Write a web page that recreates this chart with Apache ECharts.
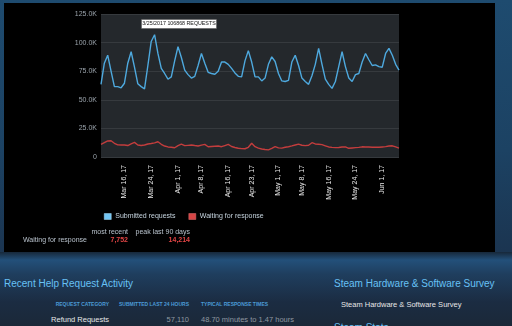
<!DOCTYPE html>
<html>
<head>
<meta charset="utf-8">
<script src="https://cdn.jsdelivr.net/npm/echarts@6/dist/echarts.min.js"></script>
<style>
html,body{margin:0;padding:0;width:512px;height:326px;overflow:hidden;}
body{position:relative;background:linear-gradient(to bottom,#1e4b6f 0px,#1c4263 150px,#1b3551 250px,#1b2838 326px);font-family:"Liberation Sans",Arial,sans-serif;}
#panel{position:absolute;left:4px;top:3px;width:491px;height:249px;background:#000;}
#lower{position:absolute;left:0;top:252px;width:512px;height:74px;background:linear-gradient(to bottom,#17283a 0px,#23507a 8px,#1f3e5e 22px,#1b2c42 50px,#1b2838 74px);}
#chart{position:absolute;left:0;top:0;width:512px;height:326px;}
.t{position:absolute;white-space:nowrap;line-height:12px;height:12px;}
.r{text-align:right;}
</style>
</head>
<body>
<div id="panel"></div>
<div id="lower"></div>
<div class="t" style="left:4px;top:278px;font-size:10px;color:#67c1f5;">Recent Help Request Activity</div>
<div class="t r" style="right:403px;top:298px;font-size:5px;font-weight:bold;color:#4b9bd6;">REQUEST CATEGORY</div>
<div class="t r" style="right:323px;top:298px;font-size:5px;font-weight:bold;color:#4b9bd6;">SUBMITTED LAST 24 HOURS</div>
<div class="t" style="left:201px;top:298px;font-size:5px;font-weight:bold;color:#4b9bd6;">TYPICAL RESPONSE TIMES</div>
<div class="t r" style="right:403px;top:314px;font-size:7.5px;color:#e6e6e6;">Refund Requests</div>
<div class="t r" style="right:323px;top:314px;font-size:7.5px;color:#8f98a0;">57,110</div>
<div class="t" style="left:201px;top:314px;font-size:7.5px;color:#8f98a0;">48.70 minutes to 1.47 hours</div>
<div class="t" style="left:334px;top:278px;font-size:10px;color:#67c1f5;">Steam Hardware &amp; Software Survey</div>
<div class="t" style="left:341px;top:299px;font-size:7.5px;color:#e6e6e6;">Steam Hardware &amp; Software Survey</div>
<div class="t" style="left:334px;top:322px;font-size:10px;color:#67c1f5;">Steam Stats</div>
<div id="chart"></div>
<script>
// ---- data ----
var startDate = [2017, 2, 9]; // Mar 9, 2017, daily points
var submitted = [63.5,82,89,75,61.5,61.5,60.5,64.5,82,92,78.5,64,61.5,59.5,80,101,106.868,90.5,77.5,73,68,70,84,96.5,87,76,72,69,70.5,80,90.5,82,74,73,72.3,75,83,83,81,77.5,73.5,70.5,70,84,93,83,70,70,66.5,69,81,87.5,83.5,73,66.5,66,67,83,89,80,69,66,63.5,71,81,95,81,68,63.5,60,66,79,92,79,69,66,72,73,83,90.5,85,80,80.5,79,78.5,90.5,95,89,81,76];
var waiting = [11,12.5,14,14.214,12,10.6,10.5,10.5,10,11.5,12.8,10.5,10,10.5,11.4,11.8,12.3,13.3,11.1,9.6,8.8,8.5,8.1,10,11.3,9.9,10.2,10.5,10,9.6,10.4,11,9,9.2,9.4,9.6,9,10,11,9.2,8.3,7.6,7.3,7.2,8.5,12,9,7.8,7,6.5,6.2,7.5,9,8,7.8,8.5,9,9.7,10.5,11.3,10.3,9.9,10.3,12.5,11.4,11.1,10.8,9.8,8.8,8.4,8.2,8.3,8.7,8.8,7.6,7.9,8.2,8.4,8.9,8.8,8.7,8.5,8.5,8.5,8.8,9.1,9.6,9.8,8.8,7.752];
var tickLabels = ['Mar 16, 17','Mar 24, 17','Apr 1, 17','Apr 8, 17','Apr 16, 17','Apr 23, 17','May 1, 17','May 8, 17','May 16, 17','May 24, 17','Jun 1, 17'];
var yTicks = [0,25000,50000,75000,100000,125000];
var seriesNames = ['Submitted requests','Waiting for response'];
var annotationText = '3/25/2017 106868 REQUESTS';
var statHeaders = ['most recent','peak last 90 days'];
var statRowLabel = 'Waiting for response';
var statValues = ['7,752','14,214'];

var months = ['Jan','Feb','Mar','Apr','May','Jun','Jul','Aug','Sep','Oct','Nov','Dec'];
var categories = [];
for (var i = 0; i < submitted.length; i++) {
  var d = new Date(startDate[0], startDate[1], startDate[2] + i);
  categories.push(months[d.getMonth()] + ' ' + d.getDate() + ', ' + String(d.getFullYear()).slice(2));
}
var subData = submitted.map(function(v){return Math.round(v*1000);});
var waitData = waiting.map(function(v){return Math.round(v*1000);});

var chart = echarts.init(document.getElementById('chart'), null, {renderer:'canvas'});
var FONT = '"Liberation Sans", Arial, sans-serif';
chart.setOption({
  backgroundColor: 'transparent',
  animation: false,
  grid: {left:101, top:14, right:113, bottom:169, show:true, backgroundColor:'#24282c', borderWidth:0},
  legend: {
    left: 99, top: 208, itemWidth: 7, itemHeight: 6, itemGap: 13,
    icon: 'rect',
    textStyle: {color:'#c6d4df', fontSize:7, fontFamily:FONT, padding:[0,0,0,-1]},
    data: [
      {name: seriesNames[0], itemStyle:{color:'#72c5f3', borderColor:'#a9dcf7', borderWidth:0.5}},
      {name: seriesNames[1], itemStyle:{color:'#d64545', borderColor:'#e07070', borderWidth:0.5}}
    ]
  },
  xAxis: {
    type: 'category', boundaryGap: false, data: categories,
    axisLine:{show:false}, axisTick:{show:false}, splitLine:{show:false},
    axisLabel: {
      rotate: 90, margin: 8, color:'#e8e8e8', fontSize:7, fontFamily:FONT,
      interval: function(idx, val){ return tickLabels.indexOf(val) >= 0; }
    }
  },
  yAxis: {
    type: 'value', min: yTicks[0], max: yTicks[yTicks.length-1], interval: yTicks[1]-yTicks[0],
    axisLine:{show:false}, axisTick:{show:false},
    splitLine:{lineStyle:{color:'#363a3e', width:1}},
    axisLabel: {
      margin: 4, color:'#9aa3ab', fontSize:7, fontFamily:FONT,
      formatter: function(v){ return v === 0 ? '0' : (v/1000).toFixed(1) + 'K'; }
    }
  },
  series: [
    {name: seriesNames[0], type:'line', data: subData, symbol:'none', color:'#4ea9de', lineStyle:{width:1.4, color:'#4ea9de'}},
    {name: seriesNames[1], type:'line', data: waitData, symbol:'none', color:'#c33d3d', lineStyle:{width:1.4, color:'#c33d3d'}}
  ],
  graphic: [
    {type:'rect', shape:{x:141.5, y:19.5, width:75, height:9}, style:{fill:'#ffffff', stroke:'#555', lineWidth:0.5}, z:100},
    {type:'text', x:179, y:24, z:101, style:{text:annotationText, fill:'#111', font:'5.3px ' + FONT, align:'center', verticalAlign:'middle'}},
    {type:'text', x:128, y:232, style:{text:statHeaders[0], fill:'#b8c2cc', font:'7px ' + FONT, align:'right', verticalAlign:'middle'}},
    {type:'text', x:190, y:232, style:{text:statHeaders[1], fill:'#b8c2cc', font:'7px ' + FONT, align:'right', verticalAlign:'middle'}},
    {type:'text', x:23, y:240.5, style:{text:statRowLabel, fill:'#b8c2cc', font:'7px ' + FONT, align:'left', verticalAlign:'middle'}},
    {type:'text', x:128, y:240.5, style:{text:statValues[0], fill:'#e04444', font:'bold 7px ' + FONT, align:'right', verticalAlign:'middle'}},
    {type:'text', x:190, y:240.5, style:{text:statValues[1], fill:'#e04444', font:'bold 7px ' + FONT, align:'right', verticalAlign:'middle'}}
  ]
});
</script>
</body>
</html>
